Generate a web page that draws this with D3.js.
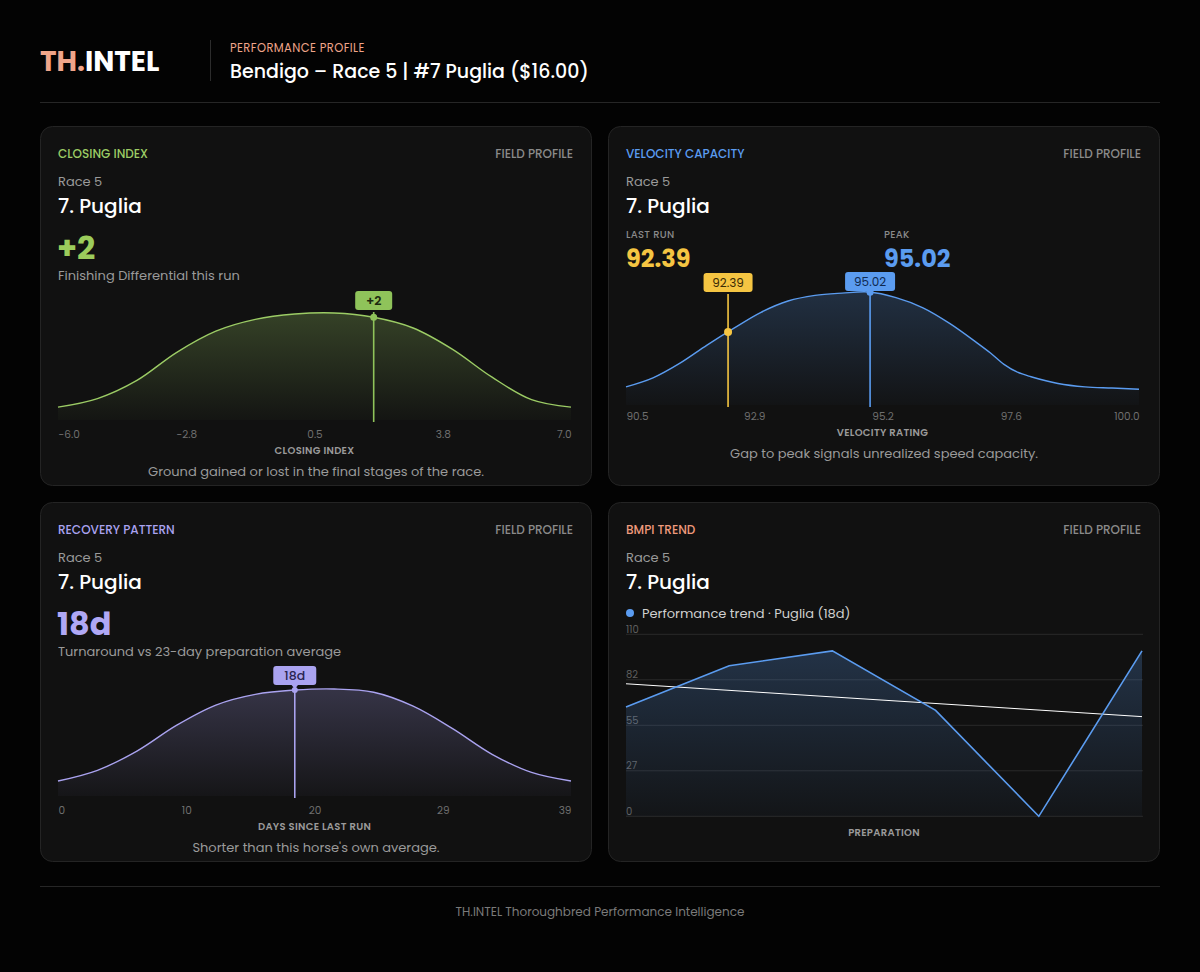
<!DOCTYPE html>
<html>
<head>
<meta charset="utf-8">
<script src="https://cdn.jsdelivr.net/npm/d3@7"></script>
<style>
  body { margin: 0; background: #030303; }
  svg text { font-family: "Poppins", "Open Sans", sans-serif; }
</style>
</head>
<body>
<svg id="chart" width="1200" height="972"></svg>
<script>
"use strict";

// closing index field profile (density, normalised to peak)
var closingX = [-6, -5, -4, -3, -2, -1, 0, 1, 2, 3, 4, 5, 6, 7];
var closingDensity = [0.12, 0.20, 0.37, 0.63, 0.83, 0.94, 0.99, 1.00, 0.96, 0.86, 0.66, 0.40, 0.19, 0.12];
var closingTicks = [-6, -2.75, 0.5, 3.75, 7];
var closingTickLabels = ["-6.0", "-2.8", "0.5", "3.8", "7.0"];
var closingValue = 2;

// velocity rating field profile
var velocityX = [90.5, 91, 91.5, 92, 92.5, 93, 93.5, 94, 94.5, 95, 95.5, 96, 96.5, 97, 97.25, 97.5, 97.75, 98, 98.5, 99, 99.5, 100];
var velocityDensity = [0.16, 0.24, 0.37, 0.53, 0.68, 0.82, 0.92, 0.97, 0.99, 1.00, 0.95, 0.86, 0.72, 0.55, 0.46, 0.36, 0.29, 0.25, 0.19, 0.16, 0.15, 0.14];
var velocityTicks = [90.5, 92.875, 95.25, 97.625, 100];
var velocityTickLabels = ["90.5", "92.9", "95.2", "97.6", "100.0"];
var lastRun = 92.39;
var peakRun = 95.02;

// days since last run field profile
var recoveryX = [0, 3, 6, 9, 12, 15, 18, 21, 24, 27, 30, 33, 36, 39];
var recoveryDensity = [0.14, 0.24, 0.42, 0.66, 0.85, 0.95, 0.99, 1.00, 0.97, 0.84, 0.63, 0.39, 0.22, 0.14];
var recoveryTicks = [0, 9.75, 19.5, 29.25, 39];
var recoveryTickLabels = ["0", "10", "20", "29", "39"];
var recoveryValue = 18;

// BMPI over the preparation
var bmpiRuns = [1, 2, 3, 4, 5, 6];
var bmpiValues = [66, 91, 100, 64, 0, 100];
var bmpiTicks = [0, 27.5, 55, 82.5, 110];
var bmpiTickLabels = ["0", "27", "55", "82", "110"];

var svg = d3.select('#chart');
var defs = svg.append('defs');

svg.append('rect').attr('width', 1200).attr('height', 972).attr('fill', '#030303');

function txt(g, x, y, s, size, color, opts) {
    opts = opts || {};
    return g.append('text')
        .attr('x', x).attr('y', y)
        .attr('dominant-baseline', 'central')
        .attr('text-anchor', opts.anchor || 'start')
        .attr('font-size', size)
        .attr('font-weight', opts.weight || 400)
        .attr('letter-spacing', opts.spacing || 0)
        .attr('fill', color)
        .text(s);
}

function gradient(id, color, topAlpha, bottomAlpha) {
    var lg = defs.append('linearGradient').attr('id', id)
        .attr('x1', 0).attr('y1', 0).attr('x2', 0).attr('y2', 1);
    lg.append('stop').attr('offset', '0%').attr('stop-color', color).attr('stop-opacity', topAlpha);
    lg.append('stop').attr('offset', '100%').attr('stop-color', color).attr('stop-opacity', bottomAlpha);
}

gradient('gGreen', '#9ccc65', 0.26, 0.02);
gradient('gBlue', '#5b9cf0', 0.22, 0.02);
gradient('gLav', '#aaa3f0', 0.24, 0.03);
gradient('gTrend', '#5b9cf0', 0.24, 0.03);

// ---- header
var head = svg.append('g');
var logo = head.append('text').attr('x', 40).attr('y', 61)
    .attr('dominant-baseline', 'central')
    .attr('font-size', 28).attr('font-weight', 700);
logo.append('tspan').attr('fill', '#f0a58a').text('TH.');
logo.append('tspan').attr('fill', '#ffffff').text('INTEL');
head.append('line').attr('x1', 210.5).attr('x2', 210.5).attr('y1', 40).attr('y2', 81).attr('stroke', '#2c2c2c');
txt(head, 230, 48, 'PERFORMANCE PROFILE', 11.5, '#f0a58a', {spacing: 0.4});
txt(head, 230, 71, 'Bendigo \u2013 Race 5 | #7 Puglia ($16.00)', 19, '#ffffff', {weight: 500});
head.append('line').attr('x1', 40).attr('x2', 1160).attr('y1', 102.5).attr('y2', 102.5).attr('stroke', '#262626');

// ---- footer
svg.append('line').attr('x1', 40).attr('x2', 1160).attr('y1', 886.5).attr('y2', 886.5).attr('stroke', '#262626');
txt(svg, 600, 911, 'TH.INTEL Thoroughbred Performance Intelligence', 12, '#7a7a7a', {anchor: 'middle'});

function panel(x, y, kicker, kickerColor) {
    var g = svg.append('g').attr('transform', 'translate(' + x + ',' + y + ')');
    g.append('rect').attr('x', 0.5).attr('y', 0.5).attr('width', 551).attr('height', 359)
        .attr('rx', 12).attr('fill', '#111111').attr('stroke', '#242424');
    txt(g, 18, 27, kicker, 12, kickerColor, {weight: 500});
    txt(g, 533, 27, 'FIELD PROFILE', 12, '#8a8a8a', {anchor: 'end', weight: 500});
    txt(g, 18, 55, 'Race 5', 13, '#9a9a9a');
    txt(g, 18, 80, '7. Puglia', 20, '#ffffff', {weight: 500});
    return g;
}

function markerLabel(g, x, y, m) {
    if (m.pointer) {
        g.append('path')
            .attr('d', 'M' + (x - 4) + ',' + (y + 18) + 'L' + x + ',' + (y + 23) + 'L' + (x + 4) + ',' + (y + 18) + 'Z')
            .attr('fill', m.color);
    }
    g.append('rect').attr('x', x - m.boxW / 2).attr('y', y).attr('width', m.boxW).attr('height', 19)
        .attr('rx', 3).attr('fill', m.color);
    txt(g, x, y + 9.5, m.label, m.fontSize || 12, m.textColor, {anchor: 'middle', weight: m.weight || 400});
}

function densityChart(g, cfg) {
    var x = d3.scaleLinear().domain(d3.extent(cfg.xs)).range([18, 531]);
    var y = d3.scaleLinear().domain([0, 1]).range([cfg.bottom, cfg.top]);
    var pts = cfg.xs.map(function(v, i) { return [v, cfg.ys[i]]; });

    var area = d3.area().x(function(d) { return x(d[0]); })
        .y0(cfg.bottom).y1(function(d) { return y(d[1]); })
        .curve(d3.curveCatmullRom.alpha(0.5));
    var line = d3.line().x(function(d) { return x(d[0]); })
        .y(function(d) { return y(d[1]); })
        .curve(d3.curveCatmullRom.alpha(0.5));

    g.append('path').datum(pts).attr('d', area).attr('fill', 'url(#' + cfg.grad + ')');
    g.append('path').datum(pts).attr('d', line).attr('fill', 'none')
        .attr('stroke', cfg.color).attr('stroke-width', 1.4);

    var axis = d3.axisBottom(x).tickValues(cfg.ticks).tickSize(0)
        .tickFormat(function(d, i) { return cfg.tickLabels[i]; });
    var ag = g.append('g').attr('transform', 'translate(0,' + cfg.tickY + ')').call(axis);
    ag.select('.domain').remove();
    ag.selectAll('text')
        .attr('y', 0).attr('dy', null)
        .attr('dominant-baseline', 'central')
        .attr('font-size', 10.5).attr('fill', '#6f6f6f')
        .attr('font-family', '"Poppins", "Open Sans", sans-serif')
        .attr('text-anchor', function(d, i) {
            return i === 0 ? 'start' : (i === cfg.ticks.length - 1 ? 'end' : 'middle');
        });

    txt(g, 274.5, cfg.tickY + 16, cfg.axisLabel, 10, '#9a9a9a', {anchor: 'middle', weight: 600, spacing: 0.3});
    txt(g, 276, cfg.tickY + 37, cfg.caption, 13, '#9a9a9a', {anchor: 'middle'});

    var interp = function(v) {
        var i = d3.bisectLeft(cfg.xs, v);
        if (i <= 0) return cfg.ys[0];
        var t = (v - cfg.xs[i - 1]) / (cfg.xs[i] - cfg.xs[i - 1]);
        return cfg.ys[i - 1] + t * (cfg.ys[i] - cfg.ys[i - 1]);
    };

    cfg.markers.forEach(function(m) {
        var mx = x(m.value);
        g.append('line').attr('x1', mx).attr('x2', mx)
            .attr('y1', m.labelY + 21).attr('y2', cfg.bottom + 2)
            .attr('stroke', m.color).attr('stroke-width', 1.6);
        g.append('circle').attr('cx', mx).attr('cy', y(interp(m.value)))
            .attr('r', m.dot).attr('fill', m.color);
        markerLabel(g, mx, m.labelY, m);
    });
}

// ---- panel 1: closing index
var p1 = panel(40, 126, 'CLOSING INDEX', '#9ccc65');
txt(p1, 17, 121, '+2', 32, '#9ccc5c', {weight: 700});
txt(p1, 18, 149, 'Finishing Differential this run', 13, '#9a9a9a');
densityChart(p1, {
    xs: closingX, ys: closingDensity, ticks: closingTicks, tickLabels: closingTickLabels,
    top: 187, bottom: 294, tickY: 308, grad: 'gGreen', color: '#9ccc65',
    axisLabel: 'CLOSING INDEX', caption: 'Ground gained or lost in the final stages of the race.',
    markers: [{value: closingValue, label: '+2', color: '#8fc35a', textColor: '#1d2a10',
        labelY: 165, dot: 3.5, boxW: 37, fontSize: 12.5, weight: 600}]
});

// ---- panel 2: velocity capacity
var p2 = panel(608, 126, 'VELOCITY CAPACITY', '#5b9cf0');
txt(p2, 18, 108, 'LAST RUN', 10, '#8a8a8a', {weight: 500, spacing: 0.3});
txt(p2, 276, 108, 'PEAK', 10, '#8a8a8a', {weight: 500, spacing: 0.3});
txt(p2, 18, 132, d3.format('.2f')(lastRun), 24, '#f5c542', {weight: 700});
txt(p2, 276, 132, d3.format('.2f')(peakRun), 24, '#5b9cf0', {weight: 700});
densityChart(p2, {
    xs: velocityX, ys: velocityDensity, ticks: velocityTicks, tickLabels: velocityTickLabels,
    top: 166, bottom: 279, tickY: 290, grad: 'gBlue', color: '#5b9cf0',
    axisLabel: 'VELOCITY RATING', caption: 'Gap to peak signals unrealized speed capacity.',
    markers: [
        {value: lastRun, label: d3.format('.2f')(lastRun), color: '#f5c542', textColor: '#3a2c05',
            labelY: 147, dot: 4, boxW: 49},
        {value: peakRun, label: d3.format('.2f')(peakRun), color: '#5b9cf0', textColor: '#0f2950',
            labelY: 146, dot: 3.5, pointer: true, boxW: 50}
    ]
});

// ---- panel 3: recovery pattern
var p3 = panel(40, 502, 'RECOVERY PATTERN', '#aaa3f0');
txt(p3, 17, 121, '18d', 32, '#b0a8f5', {weight: 700});
txt(p3, 18, 149, 'Turnaround vs 23-day preparation average', 13, '#9a9a9a');
densityChart(p3, {
    xs: recoveryX, ys: recoveryDensity, ticks: recoveryTicks, tickLabels: recoveryTickLabels,
    top: 187, bottom: 294, tickY: 308, grad: 'gLav', color: '#aaa3f0',
    axisLabel: 'DAYS SINCE LAST RUN', caption: "Shorter than this horse's own average.",
    markers: [{value: recoveryValue, label: '18d', color: '#aaa3f0', textColor: '#2a2450',
        labelY: 164, dot: 3, pointer: true, boxW: 43, fontSize: 12.5, weight: 500}]
});

// ---- panel 4: BMPI trend
var p4 = panel(608, 502, 'BMPI TREND', '#ef9a7c');
p4.append('circle').attr('cx', 22).attr('cy', 111).attr('r', 4).attr('fill', '#5b9cf0');
txt(p4, 34, 111, 'Performance trend \u00b7 Puglia (18d)', 13, '#cfcfcf');

var bx = d3.scalePoint().domain(bmpiRuns).range([18, 534]);
var by = d3.scaleLinear().domain([0, 110]).range([314.3, 132.3]);

var grid = p4.append('g');
bmpiTicks.forEach(function(t, i) {
    grid.append('line').attr('x1', 18).attr('x2', 535).attr('y1', by(t)).attr('y2', by(t))
        .attr('stroke', '#2a2a2a');
    grid.append('text').attr('x', 18).attr('y', by(t) - 1.5)
        .attr('font-size', 10).attr('fill', '#5f5f5f').text(bmpiTickLabels[i]);
});

var bmpiPts = bmpiRuns.map(function(r, i) { return [r, bmpiValues[i]]; });
p4.append('path').datum(bmpiPts)
    .attr('d', d3.area().x(function(d) { return bx(d[0]); }).y0(by(0)).y1(function(d) { return by(d[1]); }))
    .attr('fill', 'url(#gTrend)');

// least squares trend through the preparation
var mx = d3.mean(bmpiRuns), my = d3.mean(bmpiValues);
var sxy = d3.sum(bmpiRuns, function(r, i) { return (r - mx) * (bmpiValues[i] - my); });
var sxx = d3.sum(bmpiRuns, function(r) { return (r - mx) * (r - mx); });
var slope = sxy / sxx;
var trendPts = [bmpiRuns[0], bmpiRuns[bmpiRuns.length - 1]].map(function(r) {
    return [r, my + slope * (r - mx)];
});
p4.append('path').datum(trendPts)
    .attr('d', d3.line().x(function(d) { return bx(d[0]); }).y(function(d) { return by(d[1]); }))
    .attr('fill', 'none').attr('stroke', '#ffffff').attr('stroke-width', 1);

p4.append('path').datum(bmpiPts)
    .attr('d', d3.line().x(function(d) { return bx(d[0]); }).y(function(d) { return by(d[1]); }))
    .attr('fill', 'none').attr('stroke', '#5b9cf0').attr('stroke-width', 1.6);

txt(p4, 276, 330, 'PREPARATION', 10, '#9a9a9a', {anchor: 'middle', weight: 600, spacing: 0.3});
</script>
</body>
</html>
